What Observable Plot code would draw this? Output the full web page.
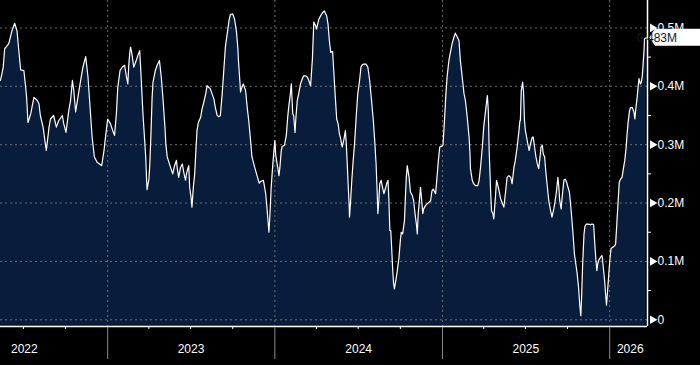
<!DOCTYPE html>
<html>
<head>
<meta charset="utf-8">
<script src="https://cdn.jsdelivr.net/npm/d3@7"></script>
<script src="https://cdn.jsdelivr.net/npm/@observablehq/plot@0.6"></script>
<style>
  html, body { margin: 0; padding: 0; background: #000; }
  #chart svg { display: block; }
</style>
</head>
<body>
<div id="chart"></div>
<script>
// ---- Data ----
const startDate = "2022-05-12"; // day 0 of the series
const dayOffsets = [
  0,6,9,16,18,25,31,36,40,44,51,55,57,60,66,73,80,84,87,93,98,100,106,109,116,122,127,135,138,143,149,153,157,160,164,169,175,180,186,191,195,200,205,211,221,226,230,234,240,245,249,253,256,261,266,271,275,278,280,282,
  284,287,291,295,300,304,307,311,314,317,319,320,324,326,329,331,333,338,342,347,351,355,359,361,364,370,376,380,384,386,389,393,397,400,404,406,409,411,413,416,418,421,424,427,429,432,437,440,444,448,451,455,458,462,466,469,473,477,480,484,488,491,495,499,502,507,511,515,518,520,523,524,526,530,535,539,542,546,549,555,559,563,565,
  568,574,576,579,581,584,586,588,591,594,597,599,601,604,608,610,613,615,620,624,627,630,632,635,638,640,643,645,648,651,655,659,662,666,670,673,677,681,684,688,690,695,699,704,707,712,715,718,721,725,728,731,734,737,740,742,746,750,753,755,758,761,762,764,767,770,773,777,780,784,787,790,793,798,802,806,810,814,817,820,822,824,826,828,831,834,837,840,843,846,848,850,
  852,854,856,858,860,863,866,870,873,875,878,882,884,886,888,892,895,899,902,905,908,910,912,914,917,919,922,924,928,932,935,939,942,945,948,950,953,956,959,962,966,969,972,975,979,983,986,990,993,997,1001,1004,1008,1012,1015,1019,1023,1025,1026,1030,1033,1037,1042,1045,1048,1052,1055,1059,1063,1065,1067,1070,1072,1075,1077,1080,1083,1086,1089,1092,1095,1099,1103,1106,1110,1114,1117,1121,1124,1128,1132,1134,
  1135,1137,1140,1142,1144,1146,1150,1154,1157,1161,1163,1166,1169,1172,1175,1178,1180,1183,1185,1188,1191,1194,1197,1201,1204,1208,1211,1214,1217,1219,1221,1224,1227,1230,1233,1236,1239,1242,1244,1247,1250,1253,1256,1259,1262,1265,1267,1269,1271,1274,1276,1279,1283,1288,1292,1295,1298,1300,1302,1304,1306,1310,1313,1314,1316,1319,1321,1323,1325,1327,1330,1333,1336,1341,1343,1346,1349,1351,1354,1357,1360,1363,1366,1368,1370,1373,1375,1379,1383,1385,1387,1390,1392,1394,1397,1399,1401,1403,1405,1406,1409
];
const values = [
  0.410,0.433,0.464,0.471,0.473,0.495,0.508,0.495,0.461,0.428,0.427,0.398,0.381,0.338,0.353,0.381,0.376,0.370,0.350,0.330,0.301,0.290,0.330,0.344,0.350,0.330,0.341,0.350,0.336,0.321,0.358,0.376,0.410,0.393,0.356,0.381,0.410,0.433,0.451,0.416,0.370,0.313,0.279,0.270,0.264,0.290,0.318,0.344,0.336,0.324,0.316,0.353,0.398,0.427,0.433,0.436,0.416,0.404,0.436,0.455,
  0.467,0.455,0.433,0.441,0.453,0.461,0.416,0.353,0.316,0.279,0.239,0.223,0.241,0.267,0.330,0.381,0.407,0.427,0.436,0.444,0.416,0.376,0.330,0.301,0.279,0.264,0.250,0.264,0.273,0.259,0.244,0.261,0.267,0.253,0.239,0.250,0.259,0.264,0.227,0.210,0.193,0.227,0.250,0.296,0.324,0.338,0.347,0.361,0.373,0.387,0.401,0.398,0.396,0.387,0.378,0.364,0.350,0.348,0.350,0.387,0.433,0.467,0.490,0.513,0.523,0.524,0.515,0.495,0.467,0.438,0.404,0.390,0.396,0.404,0.393,0.361,0.341,0.307,0.279,0.261,0.250,0.239,0.234,
  0.237,0.239,0.230,0.216,0.199,0.170,0.150,0.176,0.227,0.261,0.290,0.307,0.281,0.267,0.247,0.261,0.290,0.297,0.299,0.316,0.347,0.370,0.381,0.404,0.353,0.350,0.321,0.347,0.376,0.387,0.404,0.413,0.418,0.418,0.416,0.410,0.401,0.447,0.510,0.504,0.498,0.515,0.521,0.527,0.529,0.521,0.507,0.478,0.458,0.460,0.421,0.381,0.344,0.336,0.318,0.313,0.296,0.310,0.324,0.301,0.250,0.199,0.176,0.199,0.239,0.273,0.301,0.353,0.387,0.410,0.433,0.437,0.438,0.438,0.433,0.410,0.376,0.341,0.307,0.267,0.227,0.182,0.204,0.233,0.239,0.227,0.216,0.224,0.233,0.239,0.204,0.153,
  0.153,0.124,0.090,0.064,0.053,0.067,0.082,0.107,0.136,0.150,0.147,0.170,0.210,0.244,0.264,0.244,0.219,0.213,0.204,0.182,0.164,0.147,0.182,0.199,0.227,0.210,0.182,0.190,0.196,0.199,0.201,0.204,0.221,0.224,0.219,0.216,0.244,0.273,0.296,0.297,0.299,0.336,0.381,0.416,0.444,0.461,0.473,0.484,0.491,0.485,0.478,0.444,0.416,0.387,0.376,0.347,0.313,0.284,0.259,0.239,0.233,0.230,0.230,0.239,0.261,0.296,0.330,0.358,0.384,0.358,0.287,0.221,0.187,0.182,0.173,0.204,0.239,0.230,0.219,0.207,0.201,0.193,0.221,0.244,0.247,0.244,0.233,0.261,0.273,0.296,0.324,0.341,
  0.341,0.393,0.407,0.390,0.341,0.324,0.307,0.290,0.301,0.313,0.313,0.296,0.279,0.267,0.259,0.279,0.296,0.299,0.284,0.279,0.250,0.227,0.204,0.187,0.176,0.190,0.204,0.221,0.244,0.227,0.204,0.190,0.216,0.239,0.241,0.236,0.227,0.219,0.204,0.176,0.147,0.113,0.096,0.079,0.056,0.022,0.007,0.045,0.096,0.147,0.160,0.164,0.164,0.163,0.164,0.163,0.124,0.102,0.084,0.096,0.102,0.107,0.110,0.107,0.090,0.067,0.045,0.025,0.045,0.067,0.099,0.122,0.124,0.127,0.130,0.170,0.210,0.236,0.241,0.244,0.259,0.273,0.296,0.318,0.336,0.356,0.363,0.364,0.356,0.344,0.361,0.381,0.398,0.413,0.404,0.407,0.416,0.438,0.461,0.481,0.483
];
const yTicks = [0, 0.1, 0.2, 0.3, 0.4, 0.5];
const yTickLabels = ["0", "0.1M", "0.2M", "0.3M", "0.4M", "0.5M"];
const yMinorTicks = [0.05, 0.15, 0.25, 0.35, 0.45];
const yearBoundaries = ["2023-01-01", "2024-01-01", "2025-01-01", "2026-01-01"];
const quarterTicks = ["2022-07-01", "2022-10-01", "2023-04-01", "2023-07-01", "2023-10-01",
                      "2024-04-01", "2024-07-01", "2024-10-01", "2025-04-01", "2025-07-01", "2025-10-01"];
const yearLabels = ["2022", "2023", "2024", "2025", "2026"];
const yearLabelDates = ["2022-07-03", "2023-07-02", "2024-07-02", "2025-07-02", "2026-02-15"];
const lastValueLabel = "0.483M";

// ---- Build table ----
const start = new Date(startDate + "T00:00:00Z");
const data = dayOffsets.map((d, i) => ({ date: d3.utcDay.offset(start, d), value: values[i] }));
const last = data[data.length - 1];

const W = 700, H = 365;
const mLeft = 0, mRight = 53, mTop = 0, mBottom = 39;
const innerH = H - mTop - mBottom;
const xDomain = [start, new Date("2026-03-24T14:00:00Z")];
const yDomain = [-0.0115, 0.547];
const xEnd = xDomain[1];
const gridColor = "#6e6e6e";
const areaColor = "#081d3b";

const chart = Plot.plot({
  width: W, height: H,
  marginLeft: mLeft, marginRight: mRight, marginTop: mTop, marginBottom: mBottom,
  x: { type: "utc", domain: xDomain, axis: null },
  y: { domain: yDomain, axis: null },
  style: { background: "#000", color: "#fff", fontFamily: "'Liberation Sans', Arial, sans-serif", fontSize: "12px" },
  marks: [
    Plot.areaY(data, { x: "date", y1: yDomain[0], y2: "value", fill: areaColor }),
    Plot.ruleY(yTicks, { stroke: gridColor, strokeDasharray: "2,3" }),
    Plot.ruleX(yearBoundaries.map(d => new Date(d)), { stroke: gridColor, strokeDasharray: "2,3" }),
    Plot.line(data, { x: "date", y: "value", stroke: "#fff", strokeWidth: 1.2 }),
    Plot.ruleY([last.value], { x1: last.date, x2: xEnd, stroke: "#f39c12", strokeWidth: 1 }),
    // bottom axis
    Plot.ruleY([yDomain[0]], { stroke: "#fff", strokeWidth: 1.5 }),
    Plot.ruleX(yearBoundaries.map(d => new Date(d)), { stroke: "#8a8a8a", insetTop: innerH + 1, insetBottom: -33 }),
    Plot.ruleX(quarterTicks.map(d => new Date(d)), { stroke: "#fff", insetTop: innerH, insetBottom: -3 }),
    Plot.text(yearLabelDates, { x: d => new Date(d), text: (d, i) => yearLabels[i], frameAnchor: "bottom", dy: 26, fill: "#fff" }),
    // right axis
    Plot.ruleX([xEnd], { stroke: "#fff", strokeWidth: 1.5 }),
    Plot.ruleY(yMinorTicks, { stroke: "#fff", insetLeft: W - mRight, insetRight: -4 }),
    Plot.dot(yTicks, { x: () => xEnd, y: d => d, symbol: "triangle", r: 3.2, fill: "#fff", stroke: null, rotate: 90, dx: 5 }),
    Plot.text(yTicks, { x: () => xEnd, y: d => d, text: (d, i) => yTickLabels[i], dx: 10, textAnchor: "start", fill: "#fff" })
  ]
});

// Last-value tag, positioned through Plot's scales
const ys = chart.scale("y"), xs = chart.scale("x");
const ty = ys.apply(last.value);
const tx = xs.apply(xEnd) + 2;
const svg = d3.select(chart);
const bh = 17, aw = 6;
svg.append("path")
  .attr("d", `M${tx},${ty} L${tx + aw},${ty - bh / 2} L${W},${ty - bh / 2} L${W},${ty + bh / 2} L${tx + aw},${ty + bh / 2} Z`)
  .attr("fill", "#fff");
svg.append("text")
  .attr("x", tx + aw + 2).attr("y", ty).attr("dy", "0.35em")
  .attr("fill", "#0a1a33")
  .attr("font-family", "'Liberation Sans', Arial, sans-serif").attr("font-size", 12)
  .text(lastValueLabel);

document.getElementById("chart").append(chart);
</script>
</body>
</html>
